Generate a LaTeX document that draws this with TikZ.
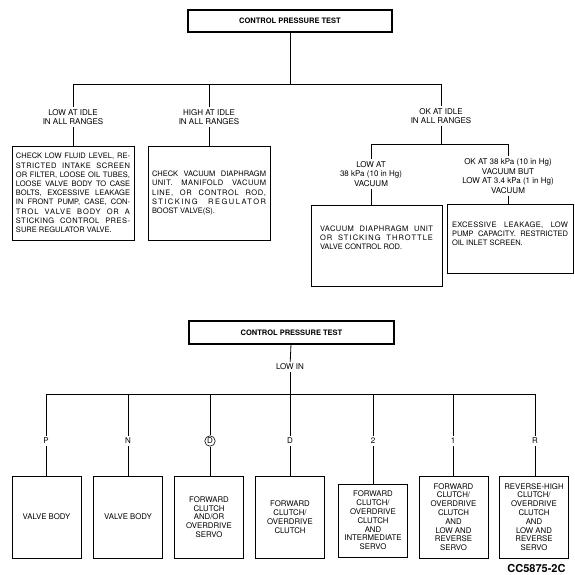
\documentclass[tikz,border=0pt]{standalone}
\usepackage{fontspec}
\setmainfont{TeX Gyre Heros}
\usetikzlibrary{positioning}
\newcommand\tracked[2]{{\addfontfeatures{LetterSpace=#1}#2}}
\begin{document}
\begin{tikzpicture}[x=1pt, y=-1pt,
  every node/.style={font=\fontsize{8}{9.5}\selectfont},
  link/.style={line width=0.8pt},
  headbox/.style={draw, line width=1.1pt, minimum width=204, minimum height=22,
    font=\bfseries\fontsize{7.5}{9}\selectfont},
  cond/.style={align=center, inner sep=2pt},
  notebox/.style={draw, line width=1pt, align=justify, inner xsep=4pt,
    font=\fontsize{7.5}{9.2}\selectfont},
  gearbox/.style={draw, line width=1pt, align=center, minimum width=69,
    minimum height=82, font=\fontsize{7.8}{8.8}\selectfont}]
\useasboundingbox (0,0) rectangle (575,575);

% upper chart
\node[headbox] (test) at (290,21) {CONTROL PRESSURE TEST};
\coordinate (bar) at (0,84);
\node[cond] (idleLow) at (73,117) {LOW AT IDLE\\IN ALL RANGES};
\node[cond] (idleHigh) at (209,117) {HIGH AT IDLE\\IN ALL RANGES};
\node[cond] (idleOk) at (441,116) {OK AT IDLE\\IN ALL RANGES};
\node[notebox, text width=114, minimum height=94] (lowBox) at (73,193)
  {CHECK LOW FLUID LEVEL, RE-\linebreak
   \tracked{6}{STRICTED INTAKE SCREEN}\linebreak
   OR FILTER, LOOSE OIL TUBES,\linebreak
   LOOSE VALVE BODY TO CASE\linebreak
   BOLTS, EXCESSIVE LEAKAGE\linebreak
   IN FRONT PUMP, CASE, CON-\linebreak
   \tracked{12}{TROL VALVE BODY OR A}\linebreak
   \tracked{6}{STICKING CONTROL PRES-}\linebreak
   SURE REGULATOR VALVE.};
\node[notebox, text width=114, minimum height=94] (highBox) at (209,193)
  {CHECK VACUUM DIAPHRAGM\linebreak
   \tracked{6}{UNIT. MANIFOLD VACUUM}\linebreak
   \tracked{8}{LINE, OR CONTROL ROD,}\linebreak
   \tracked{20}{STICKING REGULATOR}\linebreak
   BOOST VALVE(S).};
\coordinate (subbar) at (0,144);
\node[cond] (vacLow) at (371,174) {LOW AT\\38 kPa (10 in Hg)\\VACUUM};
\node[cond] (vacOk) at (508,176) {OK AT 38 kPa (10 in Hg)\\VACUUM BUT\\LOW AT 3.4 kPa (1 in Hg)\\VACUUM};
\node[notebox, text width=113, inner xsep=9pt, minimum height=81] (diaBox) at (376.5,245.5)
  {\tracked{6}{VACUUM DIAPHRAGM UNIT}\linebreak
   \tracked{14}{OR STICKING THROTTLE}\linebreak
   VALVE CONTROL ROD.\par\rule{0pt}{15pt}};
\node[notebox, text width=116, inner xsep=5pt, minimum height=69] (leakBox) at (510,238.5)
  {\tracked{4}{EXCESSIVE LEAKAGE, LOW}\linebreak
   PUMP CAPACITY. RESTRICTED\linebreak
   OIL INLET SCREEN.\par\rule{0pt}{8pt}};

\draw[link] (test) -- (test |- bar);
\draw[link] (idleLow) -- (idleLow |- bar) -| (idleOk);
\draw[link] (idleHigh) -- (idleHigh |- bar);
\draw[link] (idleLow) -- (lowBox);
\draw[link] (idleHigh) -- (highBox);
\draw[link] (idleOk) -- (idleOk |- subbar);
\draw[link] (vacLow) -- (vacLow |- subbar) -| (vacOk);
\draw[link] (vacLow) -- (vacLow |- diaBox.north);
\draw[link] (vacOk) -- (vacOk |- leakBox.north);

% lower chart
\node[headbox, minimum width=205, minimum height=23] (test2) at (291.5,332.5) {CONTROL PRESSURE TEST};
\node[cond] (lowIn) at (290,367) {LOW IN};
\coordinate (bar2) at (0,394);
\node[cond] (rP) at (46,441) {P};
\node[cond] (rN) at (128,441) {N};
\node[cond, draw, circle, line width=0.6pt, inner sep=0.8pt] (rDo) at (210,441) {D};
\node[cond] (rD) at (290,441) {D};
\node[cond] (r2) at (373,441) {2};
\node[cond] (r1) at (453,441) {1};
\node[cond] (rR) at (535,441) {R};
\node[gearbox] (bP) at (46.5,517) {VALVE BODY};
\node[gearbox] (bN) at (128,517) {VALVE BODY};
\node[gearbox] (bDo) at (209,517) {FORWARD\\CLUTCH\\AND/OR\\OVERDRIVE\\SERVO};
\node[gearbox] (bD) at (290,517) {FORWARD\\CLUTCH/\\OVERDRIVE\\CLUTCH};
\node[gearbox, minimum height=73] (b2) at (373,520.5) {FORWARD\\CLUTCH/\\OVERDRIVE\\CLUTCH\\AND\\INTERMEDIATE\\SERVO};
\node[gearbox] (b1) at (453.5,517) {FORWARD\\CLUTCH/\\OVERDRIVE\\CLUTCH\\AND\\LOW AND\\REVERSE\\SERVO};
\node[gearbox] (bR) at (534,517) {REVERSE-HIGH\\CLUTCH/\\OVERDRIVE\\CLUTCH\\AND\\LOW AND\\REVERSE\\SERVO};
\node[font=\bfseries\fontsize{11}{13}\selectfont, anchor=east] (code) at (569,568) {CC5875-2C};

\draw[link] (test2) -- (lowIn);
\draw[link] (lowIn) -- (lowIn |- bar2);
\draw[link] (rP) -- (rP |- bar2) -| (rR);
\foreach \r in {rN, rDo, rD, r2, r1}
  \draw[link] (\r) -- (\r |- bar2);
\foreach \r/\b in {rP/bP, rN/bN, rDo/bDo, rD/bD, r2/b2, r1/b1, rR/bR}
  \draw[link] (\r) -- (\r |- \b.north);
\end{tikzpicture}
\end{document}
